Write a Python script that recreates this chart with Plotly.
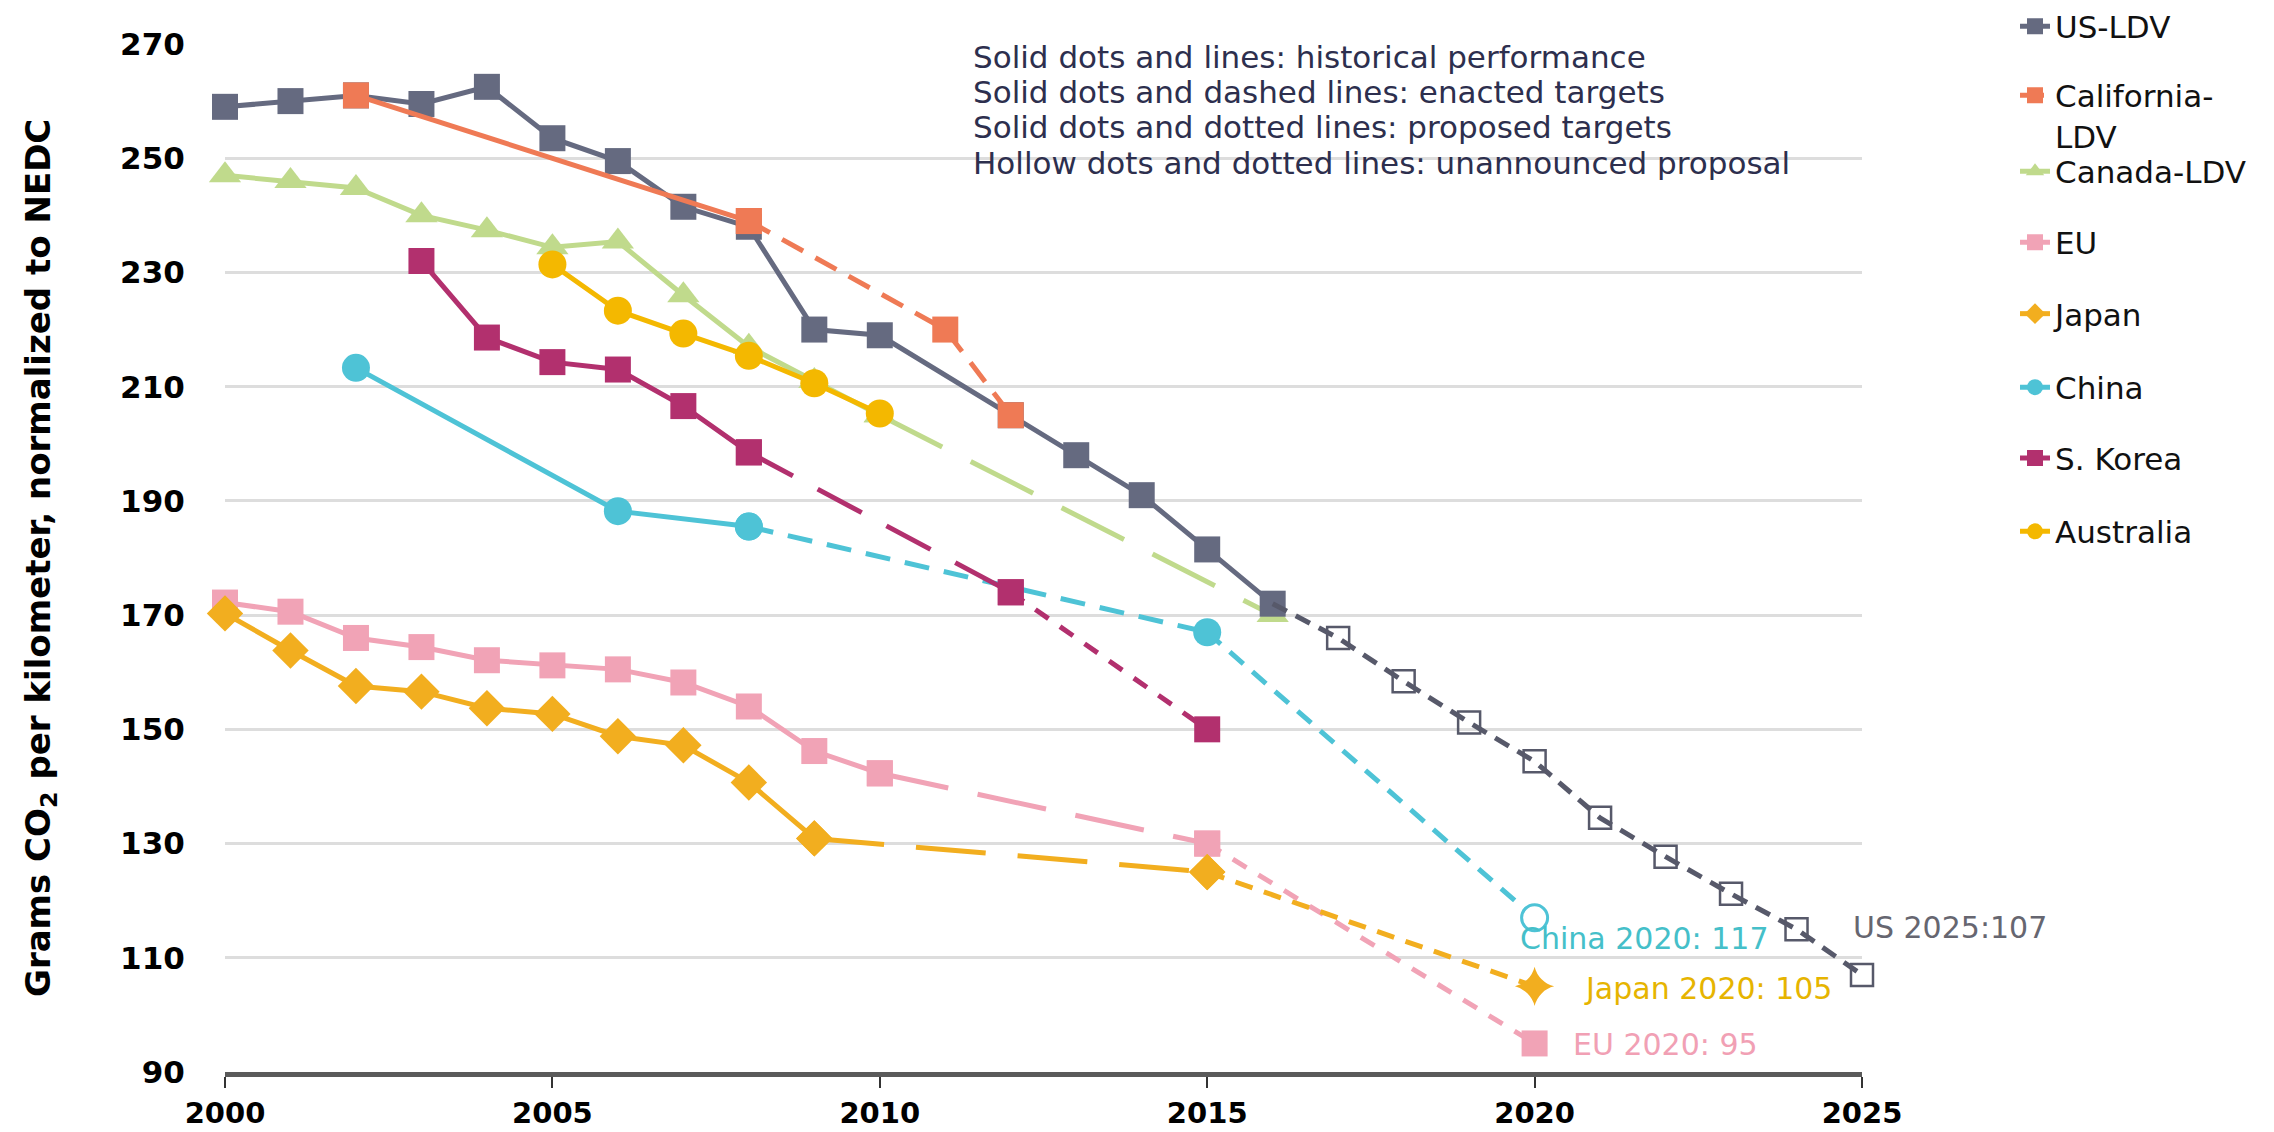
import plotly.graph_objects as go

# ---------------- data ----------------
us_years = [2000, 2001, 2002, 2003, 2004, 2005, 2006, 2007, 2008, 2009, 2010, 2012, 2013, 2014, 2015, 2016]
us_values = [259, 260, 261, 259.5, 262.5, 253.5, 249.5, 241.5, 238, 220, 219, 205, 198, 191, 181.5, 172]
us_target_years = [2016, 2017, 2018, 2019, 2020, 2021, 2022, 2023, 2024, 2025]
us_target_values = [172, 166, 158.4, 151.2, 144.4, 134.5, 127.7, 121.2, 115, 107]

cal_years = [2002, 2008]
cal_values = [261, 239]
cal_target_years = [2008, 2011, 2012]
cal_target_values = [239, 220, 205]

canada_years = [2000, 2001, 2002, 2003, 2004, 2005, 2006, 2007, 2008, 2009, 2010]
canada_values = [247, 246, 244.8, 240, 237.4, 234.4, 235.4, 226, 217, 211, 205]
canada_target_years = [2010, 2016]
canada_target_values = [205, 170]

eu_years = [2000, 2001, 2002, 2003, 2004, 2005, 2006, 2007, 2008, 2009, 2010]
eu_values = [172.2, 170.6, 166, 164.4, 162.1, 161.2, 160.5, 158.2, 154, 146.2, 142.3]
eu_2015_years = [2010, 2015]
eu_2015_values = [142.3, 130]
eu_2020_years = [2015, 2020]
eu_2020_values = [130, 95]

japan_years = [2000, 2001, 2002, 2003, 2004, 2005, 2006, 2007, 2008, 2009]
japan_values = [170.3, 163.8, 157.6, 156.6, 153.7, 152.7, 148.8, 147.2, 140.7, 130.9]
japan_2015_years = [2009, 2015]
japan_2015_values = [130.9, 125]
japan_2020_years = [2015, 2020]
japan_2020_values = [125, 105]

china_years = [2002, 2006, 2008]
china_values = [213.3, 188.2, 185.5]
china_2015_years = [2008, 2015]
china_2015_values = [185.5, 167]
china_2020_years = [2015, 2020]
china_2020_values = [167, 117]

korea_years = [2003, 2004, 2005, 2006, 2007, 2008]
korea_values = [232, 218.6, 214.3, 213, 206.6, 198.5]
korea_2012_years = [2008, 2012]
korea_2012_values = [198.5, 174]
korea_2015_years = [2012, 2015]
korea_2015_values = [174, 150]

australia_years = [2005, 2006, 2007, 2008, 2009, 2010]
australia_values = [231.4, 223.3, 219.3, 215.4, 210.6, 205.3]

x_tick_vals = [2000, 2005, 2010, 2015, 2020, 2025]
y_tick_vals = [90, 110, 130, 150, 170, 190, 210, 230, 250, 270]

series_names = ["US-LDV", "California-<br>LDV", "Canada-LDV", "EU", "Japan", "China", "S. Korea", "Australia"]

note_lines = [
    "Solid dots and lines: historical performance",
    "Solid dots and dashed lines: enacted targets",
    "Solid dots and dotted lines: proposed targets",
    "Hollow dots and dotted lines: unannounced proposal",
]

# ---------------- styles ----------------
FONT = "DejaVu Sans"
C_US = "#656a80"
C_US_T = "#57596a"
C_CAL = "#ef7a55"
C_CAN = "#c0da8c"
C_EU = "#f1a3b6"
C_JP = "#f2ae1f"
C_CN = "#4ec3d6"
C_KR = "#b2306e"
C_AU = "#f4b800"

fig = go.Figure()


def seg(x, y, color, name, legend, showlegend=False, dash="solid", symbol="square",
        size=26, mode="lines+markers", mcolor=None, mline_color=None, mline_width=0):
    fig.add_trace(go.Scatter(
        x=x, y=y, name=name, legend=legend, legendgroup=legend,
        showlegend=showlegend, mode=mode, cliponaxis=False,
        line=dict(color=color, width=5, dash=dash),
        marker=dict(symbol=symbol, size=size, color=mcolor if mcolor is not None else color,
                    line=dict(color=mline_color or color, width=mline_width)),
        hoverinfo="x+y+name",
    ))


# Canada (bottom)
seg(canada_years, canada_values, C_CAN, series_names[2], "legend3", True, symbol="triangle-up", size=28)
seg(canada_target_years, canada_target_values, C_CAN, series_names[2], "legend3", dash="70px,32px",
    symbol="triangle-up", size=28)
# EU
seg(eu_years, eu_values, C_EU, series_names[3], "legend4", True, symbol="square", size=26)
seg(eu_2015_years, eu_2015_values, C_EU, series_names[3], "legend4", dash="70px,30px", symbol="square", size=26)
seg(eu_2020_years, eu_2020_values, C_EU, series_names[3], "legend4", dash="16px,14px", symbol="square", size=26)
# Japan
seg(japan_years, japan_values, C_JP, series_names[4], "legend5", True, symbol="diamond", size=28)
seg(japan_2015_years, japan_2015_values, C_JP, series_names[4], "legend5", dash="70px,32px", symbol="diamond", size=28)
seg(japan_2020_years, japan_2020_values, C_JP, series_names[4], "legend5", dash="18px,12px",
    symbol=["diamond", "star-diamond"], size=28)
# China
seg(china_years, china_values, C_CN, series_names[5], "legend6", True, symbol="circle", size=28)
seg(china_2015_years, china_2015_values, C_CN, series_names[5], "legend6", dash="25px,15px", symbol="circle", size=28)
seg(china_2020_years, china_2020_values, C_CN, series_names[5], "legend6", dash="18px,12px", symbol="circle", size=26,
    mcolor=[C_CN, "white"], mline_color=C_CN, mline_width=[0, 3])
# S. Korea
seg(korea_years, korea_values, C_KR, series_names[6], "legend7", True, symbol="square", size=26)
seg(korea_2012_years, korea_2012_values, C_KR, series_names[6], "legend7", dash="50px,28px", symbol="square", size=26)
seg(korea_2015_years, korea_2015_values, C_KR, series_names[6], "legend7", dash="16px,14px", symbol="square", size=26)
# Australia
seg(australia_years, australia_values, C_AU, series_names[7], "legend8", True, symbol="circle", size=28)
# US
seg(us_years, us_values, C_US, series_names[0], "legend", True, symbol="square", size=26)
seg(us_target_years, us_target_values, C_US_T, series_names[0], "legend", dash="16px,10px", mode="lines")
seg(us_target_years[1:], us_target_values[1:], C_US_T, series_names[0], "legend", mode="markers",
    symbol="square-open", size=22, mline_color=C_US_T, mline_width=2.5)
# California (top)
seg(cal_years, cal_values, C_CAL, series_names[1], "legend2", symbol="square", size=26)
seg(cal_target_years, cal_target_values, C_CAL, series_names[1], "legend2", True, dash="24px,14px",
    symbol="square", size=26)

# ---------------- layout ----------------
W, H = 2274, 1132
ML, MR, MT, MB = 225, 412, 44, 60
PW, PH = W - ML - MR, H - MT - MB


def px_x(X):
    return (X - ML) / PW


def px_y(Y):
    return (H - MB - Y) / PH


ytick_font = dict(family=FONT, size=31, color="#000000", weight="bold")
xtick_font = dict(family=FONT, size=29, color="#000000", weight="bold")

fig.update_layout(
    width=W, height=H,
    margin=dict(l=ML, r=MR, t=MT, b=MB, pad=0, autoexpand=False),
    paper_bgcolor="white", plot_bgcolor="white",
    font=dict(family=FONT, size=30, color="#111111"),
    xaxis=dict(range=[2000, 2025], tickmode="array", tickvals=x_tick_vals,
               ticktext=[str(v) for v in x_tick_vals],
               ticks="outside", ticklen=11, tickwidth=2, tickcolor="#333333",
               showline=True, linecolor="#5a5a5a", linewidth=5,
               showgrid=False, zeroline=False, tickfont=xtick_font, ticklabelstandoff=0,
               automargin=False),
    yaxis=dict(range=[90, 270], tickmode="array", tickvals=y_tick_vals,
               ticktext=[str(v) for v in y_tick_vals],
               showgrid=True, gridcolor="#dddddd", gridwidth=3,
               showline=False, zeroline=False,
               ticks="outside", ticklen=33, tickcolor="rgba(0,0,0,0)",
               tickfont=ytick_font, automargin=False),
    hovermode="closest",
)

# legends: one per series, stacked on the right
legend_ids = ["legend", "legend2", "legend3", "legend4", "legend5", "legend6", "legend7", "legend8"]
legend_y_px = [26.7, 115.5, 171.7, 242.5, 314, 387.5, 458.3, 531.7]
for lid, ly in zip(legend_ids, legend_y_px):
    fig.update_layout({lid: dict(
        x=px_x(2015), xanchor="left", y=px_y(ly), yanchor="middle",
        font=dict(family=FONT, size=31, color="#111111"),
        bgcolor="rgba(0,0,0,0)", borderwidth=0, valign="top",
        orientation="v", itemsizing="trace",
    )})

annotations = []
# y axis title
annotations.append(dict(
    text="Grams CO<sub>2</sub> per kilometer, normalized to NEDC",
    xref="paper", yref="paper", x=px_x(40), y=0.5, textangle=-90,
    xanchor="center", yanchor="middle", showarrow=False,
    font=dict(family=FONT, size=34, color="#000000", weight="bold"),
))
# explanatory note
for line, ly in zip(note_lines, [57, 91.7, 126.7, 163]):
    annotations.append(dict(
        text=line, xref="paper", yref="paper", x=px_x(971), y=px_y(ly),
        xanchor="left", yanchor="middle", showarrow=False,
        font=dict(family=FONT, size=31, color="#2d2f4e"),
    ))
# end labels
end_labels = [
    ("China 2020: 117", 2019.75, 113.4, "#45bfc9"),
    ("Japan 2020: 105", 2020.73, 104.6, "#e6b400"),
    ("EU 2020: 95", 2020.56, 94.9, "#f1a0b4"),
    ("US 2025:107", 2024.83, 115.3, "#666670"),
]
for txt, lx, ly, col in end_labels:
    annotations.append(dict(
        text=txt, xref="x", yref="y", x=lx, y=ly, xanchor="left", yanchor="middle",
        showarrow=False, font=dict(family=FONT, size=30, color=col),
    ))
fig.update_layout(annotations=annotations)

fig.write_html("out.html", config={"displayModeBar": False},
               post_script="document.body.style.margin='0';document.body.style.overflow='hidden';")
